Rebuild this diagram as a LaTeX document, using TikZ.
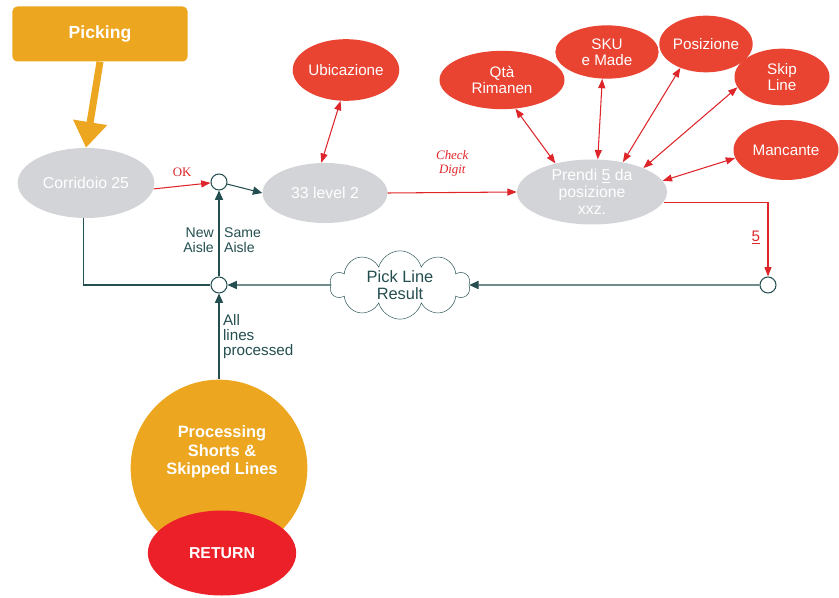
\documentclass[tikz,border=0pt]{standalone}
\usepackage{fontspec}
\setmainfont{Liberation Sans}
\newfontfamily\notefont{Liberation Serif}
\usetikzlibrary{shapes.geometric,shapes.symbols,arrows.meta}

\definecolor{PickingColor}{RGB}{236,166,32}
\definecolor{StepColor}{RGB}{211,212,215}
\definecolor{OptionColor}{RGB}{233,67,50}
\definecolor{LinkColor}{RGB}{222,38,42}
\definecolor{FlowColor}{RGB}{36,78,80}
\definecolor{ReturnColor}{RGB}{236,32,40}

\begin{document}
\begin{tikzpicture}[x=0.03cm,y=-0.03cm,
	stepnode/.style={ellipse,fill=StepColor,text=white,align=center,inner sep=0pt,font=\fontsize{13.5}{14.5}\selectfont},
	optnode/.style={ellipse,fill=OptionColor,text=white,align=center,inner sep=0pt,font=\fontsize{13}{14}\selectfont},
	junction/.style={circle,draw=FlowColor,fill=white,line width=0.9pt,minimum size=0.48cm,inner sep=0pt},
	redlink/.style={draw=LinkColor,line width=0.9pt,-{Triangle[length=8pt,width=6pt]}},
	redboth/.style={draw=LinkColor,line width=0.9pt,{Triangle[length=8pt,width=6pt]}-{Triangle[length=8pt,width=6pt]}},
	flowlink/.style={draw=FlowColor,line width=0.9pt,-{Triangle[length=8pt,width=7pt]}},
	flowlabel/.style={text=FlowColor,inner sep=1pt,font=\fontsize{12}{12.5}\selectfont}]
	\useasboundingbox (0,0) rectangle (839,598);

	\node [fill=PickingColor,rounded corners=4pt,minimum width=5.25cm,minimum height=1.65cm,text=white,font=\bfseries\fontsize{15}{15}\selectfont] (picking) at (100,34) {Picking};
	\node [stepnode,minimum width=4.1cm,minimum height=2.1cm] (corridoio) at (86,183) {Corridoio 25};
	\node [stepnode,minimum width=3.75cm,minimum height=1.8cm] (level) at (325,193) {33 level 2};
	\node [stepnode,minimum width=4.5cm,minimum height=1.95cm] (prendi) at (592,192) {Prendi \underline{5} da\\posizione\\xxz.};

	\node [optnode,minimum width=2.8cm,minimum height=1.85cm] (ubicazione) at (346,70) {Ubicazione};
	\node [optnode,minimum width=3.75cm,minimum height=1.75cm] (qta) at (502,80) {Qtà\\Rimanen};
	\node [optnode,minimum width=3.1cm,minimum height=1.6cm] (sku) at (607,52) {SKU\\e Made};
	\node [optnode,minimum width=2.45cm,minimum height=1.7cm] (posizione) at (706,44) {Posizione};
	\node [optnode,minimum width=2.85cm,minimum height=1.7cm] (skip) at (782,77) {Skip\\Line};
	\node [optnode,minimum width=3.15cm,minimum height=1.8cm] (mancante) at (786,150) {Mancante};

	\node [junction] (aisle) at (219,182) {};
	\node [junction] (lines) at (219,285) {};
	\node [junction] (result) at (768,285) {};
	\node [cloud,cloud puffs=10,aspect=2.1,draw=FlowColor,fill=white,text=FlowColor,align=center,inner sep=0pt,minimum width=4.2cm,minimum height=2.05cm,font=\fontsize{14}{14.5}\selectfont] (pickline) at (400,285) {Pick Line\\Result};

	\node [circle,fill=PickingColor,minimum size=5.3cm] (processing) at (219,468) {};
	\node [text=white,align=center,font=\bfseries\fontsize{14}{16}\selectfont] (processingtext) at (222,452) {Processing\\Shorts \&\\Skipped Lines};
	\node [ellipse,fill=ReturnColor,minimum width=4.45cm,minimum height=2.55cm,text=white,font=\bfseries\fontsize{13.5}{14}\selectfont] (return) at (222,553) {RETURN};

	\draw [PickingColor,line width=6pt,-{Triangle[length=22pt,width=28pt]}] (picking.south) -- (corridoio.north);
	\draw [redlink] (corridoio.-5) -- (aisle) node [midway,above=4pt,text=LinkColor,font=\notefont\fontsize{11}{11}\selectfont] {OK};
	\draw [flowlink] (aisle) -- (level.west);
	\draw [redboth] (ubicazione.-100) -- (level.97);
	\draw [redlink] (level.east) -- (prendi.west) node [midway,above=10pt,align=center,text=LinkColor,font=\notefont\itshape\fontsize{11}{12}\selectfont] {Check\\Digit};
	\draw [redboth] (qta.-65) -- (prendi.142);
	\draw [redboth] (sku.-100) -- (prendi.80);
	\draw [redboth] (posizione.-137) -- (prendi.44);
	\draw [redboth] (skip.-167) -- (prendi.25);
	\draw [redboth] (mancante.-171) -- (prendi.9);
	\draw [redlink] (prendi.-8) -| (result) node [pos=0.74,left=3pt,text=LinkColor,font=\fontsize{13}{13}\selectfont] {\underline{5}};
	\draw [flowlink] (result) -- (pickline.east);
	\draw [flowlink] (pickline.west) -- (lines);
	\draw [draw=FlowColor,line width=0.9pt] (corridoio.-94) |- (lines);
	\draw [flowlink] (lines) -- (aisle)
		node [pos=0.42,left=3pt,flowlabel,align=right] {New\\Aisle}
		node [pos=0.42,right=3pt,flowlabel,align=left] {Same\\Aisle};
	\draw [flowlink] (processing.north) -- (lines)
		node [pos=0.5,right=2pt,flowlabel,align=left,font=\fontsize{13}{13}\selectfont] {All\\lines\\processed};
\end{tikzpicture}
\end{document}
